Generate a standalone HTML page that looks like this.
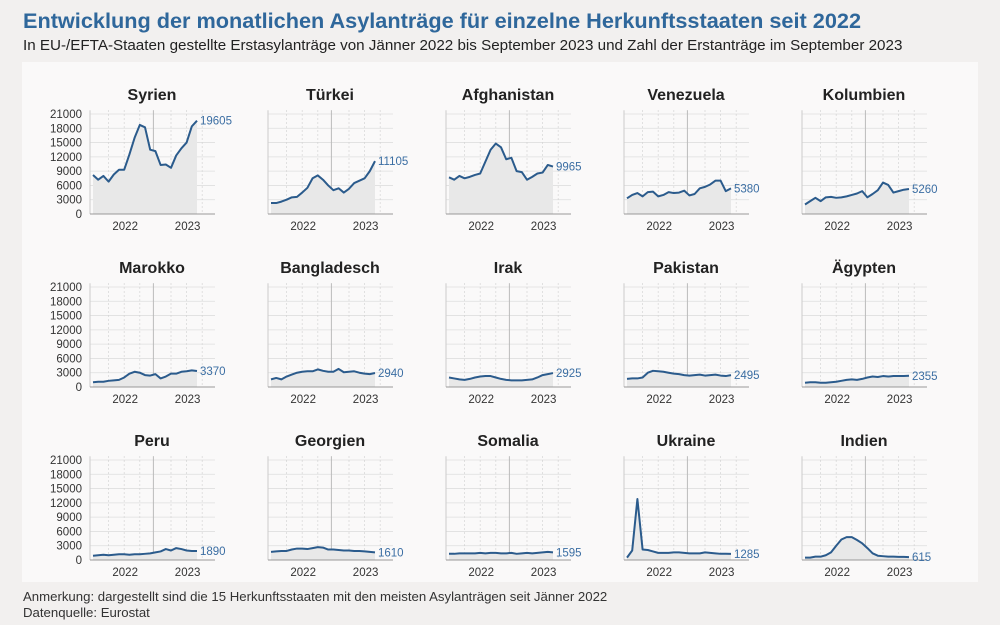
<!DOCTYPE html>
<html><head><meta charset="utf-8">
<style>
body{margin:0;background:#f2f0ef;width:1000px;height:625px;overflow:hidden;font-family:"Liberation Sans",sans-serif;}
#title{position:absolute;left:23px;top:8px;font-size:21.7px;font-weight:bold;color:#2f679b;white-space:nowrap}
#sub{position:absolute;left:23px;top:37px;font-size:15.2px;color:#222;white-space:nowrap}
#card{position:absolute;left:22px;top:62px;width:956px;height:520px;background:#faf9f9}
#note{position:absolute;left:23px;top:589px;font-size:13.2px;color:#333;line-height:16px}
svg{position:absolute;left:0;top:0}
</style></head><body>
<div id="title">Entwicklung der monatlichen Asylanträge für einzelne Herkunftsstaaten seit 2022</div>
<div id="sub">In EU-/EFTA-Staaten gestellte Erstasylanträge von Jänner 2022 bis September 2023 und Zahl der Erstanträge im September 2023</div>
<div id="card"></div>
<svg id="chart" width="1000" height="625"></svg>
<div id="note">Anmerkung: dargestellt sind die 15 Herkunftsstaaten mit den meisten Asylanträgen seit Jänner 2022<br>Datenquelle: Eurostat</div>
<script>
const countries=["Syrien","Türkei","Afghanistan","Venezuela","Kolumbien","Marokko","Bangladesch","Irak","Pakistan","Ägypten","Peru","Georgien","Somalia","Ukraine","Indien"];
const syrien=[8200,7200,8000,6800,8300,9300,9300,12500,16000,18700,18200,13500,13200,10300,10400,9700,12300,13800,15000,18400,19605];
const tuerkei=[2300,2300,2600,3000,3500,3600,4500,5500,7500,8100,7200,6000,5000,5400,4500,5300,6500,7000,7500,9000,11105];
const afghanistan=[7700,7200,8000,7500,7800,8200,8500,11000,13500,14800,14000,11500,11800,9000,8800,7200,7800,8500,8700,10300,9965];
const venezuela=[3300,4000,4400,3700,4600,4700,3700,4000,4600,4400,4500,4900,3900,4200,5400,5700,6200,7000,7000,4800,5380];
const kolumbien=[2000,2700,3400,2700,3500,3600,3400,3500,3700,4000,4300,4800,3500,4200,5000,6600,6100,4500,4800,5100,5260];
const marokko=[1000,1100,1100,1300,1400,1500,2000,2800,3200,3000,2500,2400,2700,1800,2200,2800,2800,3200,3300,3500,3370];
const bangladesch=[1600,1900,1600,2200,2600,3000,3200,3300,3300,3700,3400,3200,3200,3800,3100,3200,3300,3000,2800,2700,2940];
const irak=[2000,1800,1600,1500,1700,2000,2200,2300,2300,2000,1700,1500,1400,1400,1400,1500,1600,2000,2500,2700,2925];
const pakistan=[1700,1800,1800,2000,3000,3400,3300,3200,3000,2800,2700,2500,2400,2500,2600,2400,2500,2600,2400,2300,2495];
const aegypten=[900,1000,1000,900,900,1000,1100,1300,1500,1600,1500,1700,2000,2200,2100,2300,2200,2300,2300,2300,2355];
const peru=[900,1000,1100,1000,1100,1200,1200,1100,1200,1200,1300,1400,1600,1800,2300,2000,2500,2300,2000,1900,1890];
const georgien=[1700,1800,1900,1900,2200,2400,2400,2300,2500,2700,2600,2200,2200,2100,2000,2000,1900,1900,1800,1700,1610];
const somalia=[1300,1300,1400,1400,1400,1400,1500,1400,1500,1500,1400,1400,1500,1300,1400,1500,1400,1500,1600,1700,1595];
const ukraine=[500,2000,12800,2200,2100,1800,1500,1500,1500,1600,1600,1500,1400,1400,1400,1600,1500,1400,1300,1300,1285];
const indien=[500,500,700,700,1000,1600,3000,4300,4800,4800,4200,3500,2500,1400,900,800,700,700,650,650,615];
const series=[syrien,tuerkei,afghanistan,venezuela,kolumbien,marokko,bangladesch,irak,pakistan,aegypten,peru,georgien,somalia,ukraine,indien];
const lastLabels=["19605","11105","9965","5380","5260","3370","2940","2925","2495","2355","1890","1610","1595","1285","615"];
const yTicks=[0,3000,6000,9000,12000,15000,18000,21000];
const yearLabels=["2022","2023"];

const NS="http://www.w3.org/2000/svg";
const svg=document.getElementById('chart');
function mk(tag,attrs,parent){const e=document.createElementNS(NS,tag);for(const k in attrs)e.setAttribute(k,attrs[k]);(parent||svg).appendChild(e);return e;}
const colW=178,rowH=173,x0=93,y0=214,mW=5.2,yMax=21000,plotH=100;
series.forEach((vals,i)=>{
  const c=i%5,r=Math.floor(i/5);
  const ox=x0+c*colW, oy=y0+r*rowH;
  const X=m=>ox+m*mW, Y=v=>oy-v/yMax*plotH;
  const g=mk('g',{});
  
  
  yTicks.forEach(t=>{ if(t>0){const l=mk('line',{x1:ox-3,x2:ox+122,y1:Y(t),y2:Y(t),stroke:'#dedede','stroke-width':0.8},g);}});
  [3,6,9,15,18,21].forEach(m=>{const l=mk('line',{x1:X(m),x2:X(m),y1:Y(21800),y2:oy,stroke:'#cfcfcf','stroke-width':0.8,'stroke-dasharray':'1.5,2.5'},g);});
  const yl=mk('line',{x1:X(12)-2,x2:X(12)-2,y1:Y(21800),y2:oy,stroke:'#bbb','stroke-width':1},g);
  
  const ya=mk('line',{x1:ox-3,x2:ox-3,y1:Y(21800),y2:oy,stroke:'#ccc','stroke-width':1},g);
  
  let d='M'+X(0)+','+oy;
  vals.forEach((v,m)=>{d+=' L'+X(m)+','+Y(v);});
  d+=' L'+X(vals.length-1)+','+oy+' Z';
  const a=mk('path',{d:d,fill:'#e8e8e8'},g);
  
  const xa=mk('line',{x1:ox-3,x2:ox+122,y1:oy,y2:oy,stroke:'#999','stroke-width':1},g);
  
  const pl=mk('polyline',{points:vals.map((v,m)=>X(m)+','+Y(v)).join(' '),fill:'none',stroke:'#2b5b8c','stroke-width':2,'stroke-linejoin':'round'},g);
  
  const lv=mk('text',{x:X(vals.length-1)+3,y:Y(vals[vals.length-1])+4,'font-size':11.5,fill:'#3b6ea3'},g);
  lv.textContent=lastLabels[i];
  
  const t=mk('text',{x:ox+59,y:oy-114,'font-size':16,'font-weight':'bold','text-anchor':'middle',fill:'#222'},g);
  t.textContent=countries[i];
  
  [6,18].forEach((m,k)=>{const tx=mk('text',{x:X(m)+1,y:oy+16,'font-size':11.5,'text-anchor':'middle',fill:'#333'},g);tx.textContent=yearLabels[k];});
  if(c===0){yTicks.forEach(v=>{const tx=mk('text',{x:ox-11,y:Y(v)+4,'font-size':11.5,'text-anchor':'end',fill:'#333'},g);tx.textContent=v;});}
});
</script>
</body></html>
